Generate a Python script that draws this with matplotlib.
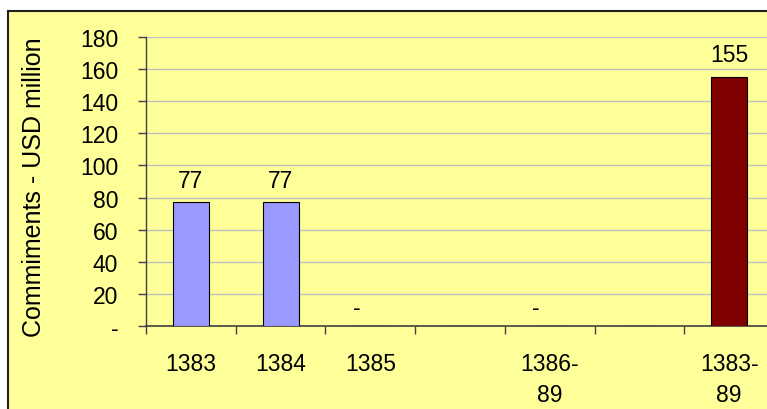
import numpy as np
import matplotlib
matplotlib.use('Agg')
import matplotlib.pyplot as plt
from matplotlib.patches import Rectangle

categories = ['1383', '1384', '1385', '', '1386-\n89', '', '1383-\n89']
values = [77, 77, 0, np.nan, 0, np.nan, 155]
labels = ['77', '77', '-', '', '-', '', '155']
bar_colors = ['#9999FF', '#9999FF', '#9999FF', '#9999FF', '#9999FF', '#9999FF', '#800000']
yticks = [0, 20, 40, 60, 80, 100, 120, 140, 160, 180]
ytick_labels = ['-', '20', '40', '60', '80', '100', '120', '140', '160', '180']

plt.rcParams['font.family'] = ['Liberation Sans', 'DejaVu Sans']

W, H = 767, 410
fig = plt.figure(figsize=(W / 100, H / 100), dpi=100)
fig.patch.set_facecolor('white')

# outer chart frame (cut off at right and bottom like the reference)
frame = Rectangle((8 / W, -0.05), 1.0, 1 - 12 / H + 0.05, transform=fig.transFigure,
                  facecolor='#FFFF99', edgecolor='#202020', linewidth=1.5, zorder=-5)
fig.patches.append(frame)

ax = fig.add_axes([146 / W, 1 - 327 / H, 628 / W, 289 / H])
ax.set_facecolor('#FFFF99')

x = np.arange(len(categories))
vals = np.nan_to_num(np.array(values, dtype=float))
ax.bar(x, vals, width=0.4, color=bar_colors, edgecolor='black', linewidth=0.8, zorder=3)

fs = 16.5
for xi, v, lab in zip(x, values, labels):
    if lab == '':
        continue
    if lab == '-':
        ax.annotate(lab, xy=(xi, 0), xytext=(-10, 13.5), textcoords='offset points',
                    ha='center', va='center', fontsize=fs)
    else:
        ax.annotate(lab, xy=(xi, v), xytext=(0, 16), textcoords='offset points',
                    ha='center', va='center', fontsize=fs)

ax.set_xlim(-0.5, 6.5)
ax.set_ylim(0, 180)
ax.set_yticks(yticks)
ax.set_yticklabels(ytick_labels, fontsize=fs)
ax.set_xticks(np.arange(-0.5, 7, 1))
ax.set_xticklabels([])
ax.set_xticks(x, minor=True)
ax.set_xticklabels(categories, minor=True, fontsize=fs, linespacing=1.4, va='top')
ax.tick_params(axis='x', which='minor', length=0, pad=19)
ax.tick_params(axis='x', which='major', direction='out', length=6, width=1, color='#404040')
ax.tick_params(axis='y', direction='out', length=6, width=1, color='#404040', pad=14)

ax.grid(axis='y', color='#C0C0C0', linewidth=1, zorder=0)
ax.set_axisbelow(True)
for side in ['top', 'right']:
    ax.spines[side].set_visible(False)
ax.spines['left'].set_color('#404040')
ax.spines['bottom'].set_color('#404040')
ax.spines['left'].set_linewidth(1)
ax.spines['bottom'].set_linewidth(1.2)

fig.text(34 / W, 1 - 187 / H, 'Commiments - USD million', rotation=90,
         ha='center', va='center', fontsize=18)

fig.savefig('out.png', dpi=100, facecolor=fig.get_facecolor())
